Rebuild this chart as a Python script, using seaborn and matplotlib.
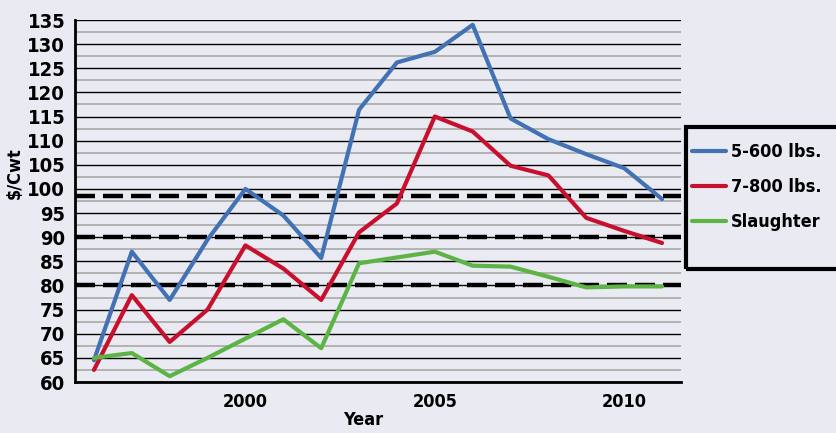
import matplotlib
matplotlib.use("Agg")
import matplotlib.pyplot as plt
import seaborn as sns
import pandas as pd
from matplotlib.patches import Rectangle
from matplotlib.ticker import MultipleLocator
from matplotlib import font_manager

# data
years = list(range(1996, 2012))
steers_5_600 = [64.5, 87, 77, 89.5, 100, 94.5, 85.7, 116.4, 126.2, 128.4, 134, 114.6, 110.3, 107.2, 104.3, 97.9]
steers_7_800 = [62.5, 78, 68.3, 75, 88.3, 83.5, 77, 91, 97, 115, 111.9, 104.8, 102.8, 94, 91.3, 88.8]
slaughter = [65, 66, 61.2, 65, 69, 73, 67, 84.6, 85.8, 87, 84.1, 83.9, 81.8, 79.6, 79.8, 79.8]
series_names = ["5-600 lbs.", "7-800 lbs.", "Slaughter"]
ref_levels = [98.5, 90, 80]

df = pd.DataFrame({"Year": years, series_names[0]: steers_5_600,
                   series_names[1]: steers_7_800, series_names[2]: slaughter})
long_df = df.melt(id_vars="Year", var_name="Series", value_name="Price")

sns.set_theme(style="white")
fams = {f.name for f in font_manager.fontManager.ttflist}
print(sorted(fams))
print(sorted({(f.name, f.stretch, f.weight) for f in font_manager.fontManager.ttflist if "DejaVu" in f.name or "Liberation" in f.name}))
plt.rcParams["font.family"] = ["DejaVu Sans"]
plt.rcParams["font.stretch"] = "condensed"
plt.rcParams["font.weight"] = "bold"
plt.rcParams["text.color"] = "black"
plt.rcParams["xtick.color"] = "black"
plt.rcParams["ytick.color"] = "black"

bg = "#eaeaf3"
palette = {"5-600 lbs.": "#4271b4", "7-800 lbs.": "#c8102e", "Slaughter": "#5cb444"}

fig = plt.figure(figsize=(8.36, 4.33), dpi=100, facecolor=bg)
ax = fig.add_axes([75 / 836, 1 - 382 / 433, (681 - 75) / 836, (382 - 20) / 433])
ax.set_facecolor(bg)

# grid
ax.set_ylim(60, 135)
ax.set_xlim(1995.5, 2011.5)
ax.yaxis.set_major_locator(MultipleLocator(5))
ax.yaxis.set_minor_locator(MultipleLocator(2.5))
ax.grid(which="major", axis="y", color="black", lw=1.0, zorder=0)
ax.grid(which="minor", axis="y", color="#a8a8a8", lw=1.2, zorder=0)

for lvl in ref_levels:
    ax.axhline(lvl, color="black", lw=3.2, dashes=(4.5, 1.8), zorder=1)

sns.lineplot(data=long_df, x="Year", y="Price", hue="Series", palette=palette,
             lw=3, ax=ax, legend=False, zorder=3)

for s in ["top", "right"]:
    ax.spines[s].set_visible(False)
for s in ["left", "bottom"]:
    ax.spines[s].set_color("black")
    ax.spines[s].set_linewidth(2)

ax.set_xticks(years)
ax.set_xticklabels([str(y) if y % 5 == 0 else "" for y in years])
ax.tick_params(axis="x", direction="in", length=9, width=1.5, color="black",
               labelsize=13, pad=8, labelcolor="black")
ax.tick_params(axis="y", which="major", direction="out", length=5, width=1, color="black",
               labelsize=14.5, pad=2, labelcolor="black")
ax.tick_params(axis="y", which="minor", direction="out", length=5, width=1, color="#a8a8a8")
for lab in ax.get_xticklabels() + ax.get_yticklabels():
    lab.set_fontweight("bold")
ax.set_xlabel("")
ax.set_ylabel("")

fig.text(15 / 836, 1 - 173 / 433, "$/Cwt", rotation=90, ha="center", va="center",
         fontsize=13, fontweight="bold")
fig.text(363 / 836, 1 - 420 / 433, "Year", ha="center", va="center",
         fontsize=13, fontweight="bold")

# legend box
fig.patches.append(Rectangle((686 / 836, 1 - 269 / 433), 0.3, (269 - 127) / 433,
                             transform=fig.transFigure, fill=False, lw=3,
                             edgecolor="black", zorder=5))
handles = [plt.Line2D([], [], color=palette[n], lw=3) for n in series_names]
leg = fig.legend(handles, series_names, loc="upper left",
                 bbox_to_anchor=(692 / 836, 1 - 143 / 433), frameon=False,
                 fontsize=13, handlelength=1.9, handletextpad=0.25,
                 labelspacing=0.95, borderaxespad=0, borderpad=0)
for t in leg.get_texts():
    t.set_fontweight("bold")
    t.set_color("black")

fig.savefig("out.png", dpi=100, facecolor=bg)
